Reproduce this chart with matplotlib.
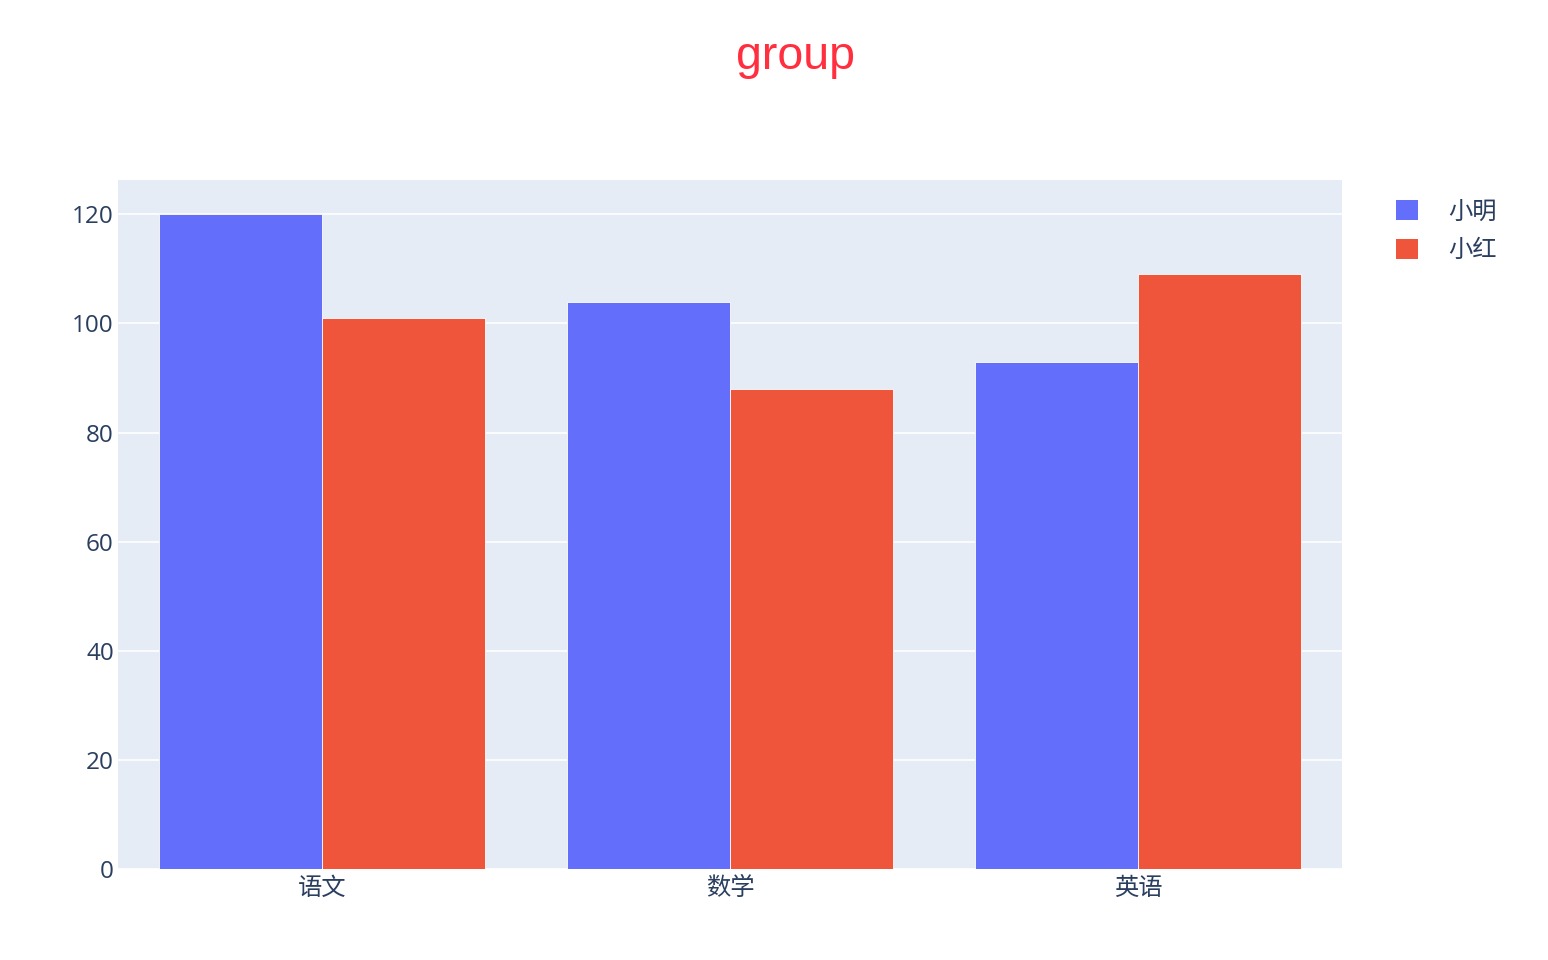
import numpy as np
import matplotlib.pyplot as plt
from matplotlib.patches import Patch

plt.rcParams['font.family'] = ['Open Sans', 'Noto Sans CJK SC', 'DejaVu Sans']

subjects = ["语文", "数学", "英语"]
xiaoming = [120, 104, 93]
xiaohong = [101, 88, 109]
names = ["小明", "小红"]
colors = ["#636EFA", "#EF553B"]

fig = plt.figure(figsize=(15.48, 9.6), dpi=100)
ax = fig.add_axes([118 / 1548, 91 / 960, 1224 / 1548, 689 / 960])
ax.set_facecolor("#E5ECF6")

x = np.arange(len(subjects))
w = 0.4
ax.bar(x - w / 2, xiaoming, w, color=colors[0], edgecolor="white", linewidth=0.6, zorder=3)
ax.bar(x + w / 2, xiaohong, w, color=colors[1], edgecolor="white", linewidth=0.6, zorder=3)

ax.set_xlim(-0.5, 2.5)
ax.set_ylim(0, 126.3)
ax.set_yticks([0, 20, 40, 60, 80, 100, 120])
ax.set_xticks(x)
ax.set_xticklabels(subjects)
ax.grid(axis="y", color="white", linewidth=1.2, zorder=0)
ax.set_axisbelow(True)
for s in ax.spines.values():
    s.set_visible(False)
ax.tick_params(length=0, labelsize=17.5, labelcolor="#2a3f5f")
ax.tick_params(axis="x", pad=6)
ax.tick_params(axis="y", pad=3)

fig.text(796 / 1548, 1 - 57 / 960, "group", ha="center", va="center",
         fontsize=33.5, color="#FF2F3F", family=["Liberation Sans", "DejaVu Sans"])

handles = [Patch(facecolor=c, edgecolor="none") for c in colors]
fig.legend(handles, names, loc="upper left", bbox_to_anchor=(1374 / 1548, 1 - 178 / 960),
           frameon=False, fontsize=17.5, labelcolor="#2a3f5f", handlelength=0.9,
           handleheight=0.9, handletextpad=1.25, labelspacing=0.6)

fig.savefig("out.png", dpi=100)
